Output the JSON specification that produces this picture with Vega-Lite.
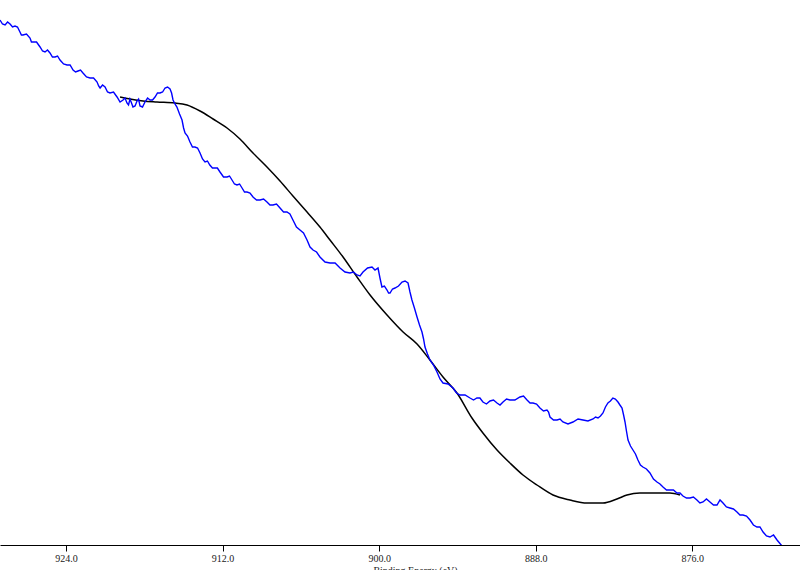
{
  "$schema": "https://vega.github.io/schema/vega-lite/v6.json",
  "width": 800,
  "height": 545,
  "autosize": {"type": "none"},
  "padding": {"left": 0, "right": 0, "top": 0, "bottom": 25},
  "background": "white",
  "view": {"stroke": null},
  "datasets": {
    "spectrum": [
      {"be": 929.06, "y": 20}, {"be": 928.87, "y": 24}, {"be": 928.67, "y": 25}, {"be": 928.48, "y": 22},
      {"be": 928.29, "y": 24}, {"be": 928.10, "y": 27}, {"be": 927.91, "y": 26}, {"be": 927.72, "y": 27},
      {"be": 927.53, "y": 32}, {"be": 927.42, "y": 35}, {"be": 927.30, "y": 35}, {"be": 927.03, "y": 34},
      {"be": 926.76, "y": 38}, {"be": 926.65, "y": 42}, {"be": 926.53, "y": 42}, {"be": 926.26, "y": 42},
      {"be": 925.99, "y": 47}, {"be": 925.80, "y": 51}, {"be": 925.61, "y": 52}, {"be": 925.42, "y": 50},
      {"be": 925.23, "y": 53}, {"be": 925.04, "y": 57}, {"be": 924.84, "y": 57}, {"be": 924.65, "y": 56},
      {"be": 924.46, "y": 60}, {"be": 924.19, "y": 64}, {"be": 923.92, "y": 65}, {"be": 923.69, "y": 65},
      {"be": 923.46, "y": 70}, {"be": 923.27, "y": 72}, {"be": 923.08, "y": 71}, {"be": 922.89, "y": 70},
      {"be": 922.70, "y": 73}, {"be": 922.43, "y": 77}, {"be": 922.16, "y": 78}, {"be": 921.89, "y": 78},
      {"be": 921.62, "y": 82}, {"be": 921.50, "y": 86}, {"be": 921.39, "y": 88}, {"be": 921.20, "y": 85},
      {"be": 921.01, "y": 87}, {"be": 920.82, "y": 92}, {"be": 920.63, "y": 93}, {"be": 920.36, "y": 92},
      {"be": 920.09, "y": 97}, {"be": 919.86, "y": 102}, {"be": 919.63, "y": 100}, {"be": 919.48, "y": 98},
      {"be": 919.33, "y": 103}, {"be": 919.21, "y": 105}, {"be": 919.10, "y": 99}, {"be": 918.98, "y": 103},
      {"be": 918.87, "y": 107}, {"be": 918.71, "y": 106}, {"be": 918.56, "y": 101}, {"be": 918.44, "y": 99},
      {"be": 918.33, "y": 106}, {"be": 918.14, "y": 107}, {"be": 917.95, "y": 102}, {"be": 917.75, "y": 98},
      {"be": 917.56, "y": 100}, {"be": 917.37, "y": 100}, {"be": 917.18, "y": 97}, {"be": 916.99, "y": 93},
      {"be": 916.80, "y": 93}, {"be": 916.60, "y": 92}, {"be": 916.41, "y": 88}, {"be": 916.22, "y": 87},
      {"be": 916.03, "y": 89}, {"be": 915.91, "y": 93}, {"be": 915.80, "y": 100}, {"be": 915.65, "y": 104},
      {"be": 915.50, "y": 107}, {"be": 915.30, "y": 114}, {"be": 915.11, "y": 120}, {"be": 914.99, "y": 128},
      {"be": 914.88, "y": 133}, {"be": 914.69, "y": 136}, {"be": 914.50, "y": 142}, {"be": 914.31, "y": 147},
      {"be": 914.12, "y": 147}, {"be": 913.92, "y": 148}, {"be": 913.73, "y": 153}, {"be": 913.54, "y": 159},
      {"be": 913.35, "y": 162}, {"be": 913.16, "y": 161}, {"be": 912.98, "y": 165}, {"be": 912.78, "y": 168},
      {"be": 912.59, "y": 168}, {"be": 912.40, "y": 168}, {"be": 912.20, "y": 172}, {"be": 911.93, "y": 177},
      {"be": 911.66, "y": 177}, {"be": 911.47, "y": 176}, {"be": 911.28, "y": 180}, {"be": 911.09, "y": 184},
      {"be": 910.90, "y": 185}, {"be": 910.70, "y": 184}, {"be": 910.51, "y": 188}, {"be": 910.32, "y": 192},
      {"be": 910.13, "y": 192}, {"be": 909.90, "y": 193}, {"be": 909.67, "y": 197}, {"be": 909.40, "y": 200},
      {"be": 909.13, "y": 200}, {"be": 908.86, "y": 199}, {"be": 908.60, "y": 202}, {"be": 908.37, "y": 205},
      {"be": 908.14, "y": 205}, {"be": 907.87, "y": 204}, {"be": 907.60, "y": 208}, {"be": 907.33, "y": 212},
      {"be": 907.07, "y": 212}, {"be": 906.84, "y": 214}, {"be": 906.61, "y": 220}, {"be": 906.34, "y": 227},
      {"be": 906.07, "y": 230}, {"be": 905.80, "y": 233}, {"be": 905.53, "y": 240}, {"be": 905.30, "y": 247},
      {"be": 905.07, "y": 250}, {"be": 904.80, "y": 252}, {"be": 904.54, "y": 257}, {"be": 904.15, "y": 262},
      {"be": 903.77, "y": 263}, {"be": 903.38, "y": 263}, {"be": 903.00, "y": 268}, {"be": 902.62, "y": 272},
      {"be": 902.24, "y": 273}, {"be": 901.97, "y": 272}, {"be": 901.70, "y": 275}, {"be": 901.47, "y": 276},
      {"be": 901.24, "y": 272}, {"be": 900.89, "y": 268}, {"be": 900.55, "y": 267}, {"be": 900.32, "y": 270},
      {"be": 900.09, "y": 268}, {"be": 899.94, "y": 278}, {"be": 899.79, "y": 287}, {"be": 899.60, "y": 286},
      {"be": 899.40, "y": 290}, {"be": 899.28, "y": 293}, {"be": 899.17, "y": 293}, {"be": 898.98, "y": 289},
      {"be": 898.79, "y": 288}, {"be": 898.52, "y": 286}, {"be": 898.25, "y": 282}, {"be": 898.02, "y": 281},
      {"be": 897.79, "y": 283}, {"be": 897.64, "y": 292}, {"be": 897.49, "y": 300}, {"be": 897.30, "y": 308},
      {"be": 897.10, "y": 317}, {"be": 896.91, "y": 325}, {"be": 896.72, "y": 332}, {"be": 896.60, "y": 339},
      {"be": 896.49, "y": 347}, {"be": 896.30, "y": 354}, {"be": 896.11, "y": 360}, {"be": 895.84, "y": 365},
      {"be": 895.57, "y": 372}, {"be": 895.34, "y": 379}, {"be": 895.11, "y": 383}, {"be": 894.72, "y": 384},
      {"be": 894.34, "y": 388}, {"be": 894.07, "y": 393}, {"be": 893.81, "y": 395}, {"be": 893.42, "y": 395},
      {"be": 893.04, "y": 398}, {"be": 892.77, "y": 400}, {"be": 892.51, "y": 398}, {"be": 892.28, "y": 398},
      {"be": 892.05, "y": 402}, {"be": 891.78, "y": 404}, {"be": 891.51, "y": 401}, {"be": 891.24, "y": 400},
      {"be": 890.97, "y": 403}, {"be": 890.74, "y": 405}, {"be": 890.51, "y": 402}, {"be": 890.24, "y": 399},
      {"be": 889.98, "y": 400}, {"be": 889.60, "y": 400}, {"be": 889.21, "y": 397}, {"be": 888.94, "y": 396},
      {"be": 888.67, "y": 400}, {"be": 888.44, "y": 403}, {"be": 888.21, "y": 403}, {"be": 887.94, "y": 404},
      {"be": 887.68, "y": 408}, {"be": 887.41, "y": 411}, {"be": 887.14, "y": 410}, {"be": 887.02, "y": 412},
      {"be": 886.91, "y": 417}, {"be": 886.64, "y": 420}, {"be": 886.37, "y": 420}, {"be": 886.14, "y": 419},
      {"be": 885.92, "y": 422}, {"be": 885.53, "y": 424}, {"be": 885.15, "y": 422}, {"be": 884.76, "y": 419},
      {"be": 884.38, "y": 420}, {"be": 884.00, "y": 421}, {"be": 883.61, "y": 419}, {"be": 883.42, "y": 417},
      {"be": 883.23, "y": 418}, {"be": 883.04, "y": 416}, {"be": 882.85, "y": 413}, {"be": 882.66, "y": 407},
      {"be": 882.47, "y": 403}, {"be": 882.28, "y": 401}, {"be": 882.09, "y": 398}, {"be": 881.90, "y": 399},
      {"be": 881.70, "y": 402}, {"be": 881.55, "y": 405}, {"be": 881.39, "y": 408}, {"be": 881.27, "y": 415},
      {"be": 881.16, "y": 422}, {"be": 881.05, "y": 431}, {"be": 880.93, "y": 440}, {"be": 880.74, "y": 446},
      {"be": 880.55, "y": 450}, {"be": 880.36, "y": 454}, {"be": 880.17, "y": 460}, {"be": 879.98, "y": 465},
      {"be": 879.79, "y": 467}, {"be": 879.52, "y": 469}, {"be": 879.25, "y": 473}, {"be": 878.98, "y": 479},
      {"be": 878.71, "y": 482}, {"be": 878.48, "y": 484}, {"be": 878.25, "y": 487}, {"be": 877.98, "y": 490},
      {"be": 877.72, "y": 490}, {"be": 877.45, "y": 490}, {"be": 877.18, "y": 493}, {"be": 876.95, "y": 493},
      {"be": 876.72, "y": 496}, {"be": 876.45, "y": 498}, {"be": 876.18, "y": 498}, {"be": 875.92, "y": 497},
      {"be": 875.65, "y": 500}, {"be": 875.42, "y": 503}, {"be": 875.18, "y": 502}, {"be": 874.92, "y": 499},
      {"be": 874.65, "y": 502}, {"be": 874.38, "y": 505}, {"be": 874.11, "y": 505}, {"be": 873.88, "y": 500},
      {"be": 873.65, "y": 503}, {"be": 873.39, "y": 507}, {"be": 873.12, "y": 508}, {"be": 872.85, "y": 509},
      {"be": 872.58, "y": 512}, {"be": 872.35, "y": 515}, {"be": 872.12, "y": 515}, {"be": 871.85, "y": 516},
      {"be": 871.58, "y": 520}, {"be": 871.32, "y": 525}, {"be": 871.05, "y": 527}, {"be": 870.82, "y": 527},
      {"be": 870.58, "y": 532}, {"be": 870.32, "y": 536}, {"be": 870.05, "y": 537}, {"be": 869.78, "y": 535},
      {"be": 869.51, "y": 540}, {"be": 869.32, "y": 543}, {"be": 869.13, "y": 546}
    ],
    "background": [
      {"be": 919.86, "y": 97}, {"be": 919.10, "y": 99}, {"be": 918.10, "y": 101}, {"be": 917.03, "y": 102},
      {"be": 915.65, "y": 103}, {"be": 914.73, "y": 105}, {"be": 913.73, "y": 111}, {"be": 912.73, "y": 119},
      {"be": 911.66, "y": 128}, {"be": 910.67, "y": 139}, {"be": 909.67, "y": 153}, {"be": 908.60, "y": 167},
      {"be": 907.60, "y": 181}, {"be": 906.61, "y": 196}, {"be": 905.53, "y": 212}, {"be": 904.54, "y": 227},
      {"be": 903.77, "y": 240}, {"be": 902.77, "y": 257}, {"be": 901.70, "y": 277}, {"be": 900.70, "y": 295},
      {"be": 899.40, "y": 315}, {"be": 898.17, "y": 332}, {"be": 897.10, "y": 344}, {"be": 896.11, "y": 360},
      {"be": 895.11, "y": 377}, {"be": 894.04, "y": 393}, {"be": 892.89, "y": 418}, {"be": 892.05, "y": 433},
      {"be": 890.97, "y": 450}, {"be": 889.98, "y": 463}, {"be": 888.98, "y": 475}, {"be": 887.91, "y": 485},
      {"be": 886.68, "y": 495}, {"be": 885.38, "y": 500}, {"be": 884.07, "y": 503}, {"be": 882.85, "y": 503},
      {"be": 881.78, "y": 499}, {"be": 881.01, "y": 495}, {"be": 880.02, "y": 493}, {"be": 878.71, "y": 493},
      {"be": 877.72, "y": 493}, {"be": 876.95, "y": 495}
    ]
  },
  "layer": [
    {
      "data": {"name": "background"},
      "mark": {"type": "line", "color": "#000000", "strokeWidth": 1.5, "interpolate": "monotone", "clip": true},
      "encoding": {
        "x": {"field": "be", "type": "quantitative"},
        "y": {"field": "y", "type": "quantitative"}
      }
    },
    {
      "data": {"name": "spectrum"},
      "mark": {"type": "line", "color": "#0000ff", "strokeWidth": 1.4, "clip": true},
      "encoding": {
        "x": {"field": "be", "type": "quantitative"},
        "y": {"field": "y", "type": "quantitative"}
      }
    }
  ],
  "encoding": {
    "x": {
      "field": "be",
      "type": "quantitative",
      "title": "Binding Energy (eV)",
      "scale": {"domain": [867.75, 929.06], "reverse": true, "nice": false, "zero": false},
      "axis": {
        "values": [924, 912, 900, 888, 876],
        "format": ".1f",
        "grid": false,
        "domainColor": "#000000",
        "domainWidth": 1,
        "tickColor": "#000000",
        "tickSize": 6,
        "labelFont": "Liberation Serif",
        "labelFontSize": 10,
        "labelColor": "#222222",
        "labelPadding": 2,
        "titleFont": "Liberation Serif",
        "titleFontSize": 10,
        "titleFontWeight": "normal",
        "titleColor": "#222222",
        "titlePadding": 2,
        "titleX": 415
      }
    },
    "y": {
      "field": "y",
      "type": "quantitative",
      "scale": {"domain": [0, 545], "reverse": true, "nice": false, "zero": false},
      "axis": null
    }
  }
}
